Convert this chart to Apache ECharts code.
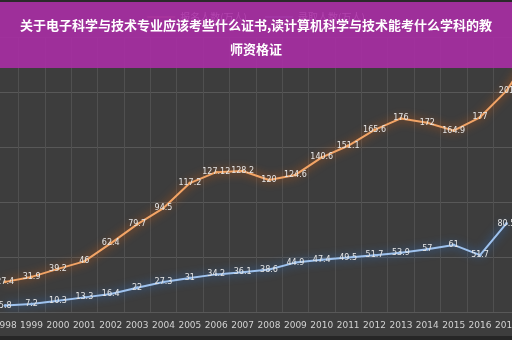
<!DOCTYPE html>
<html>
<head>
<meta charset="utf-8">
<script src="https://cdn.jsdelivr.net/npm/echarts@6/dist/echarts.min.js"></script>
<style>
html,body{margin:0;padding:0;background:#3d3d3d;}
#c{width:512px;height:340px;}
</style>
</head>
<body>
<div id="c"></div>
<script>
var titleText = '关于电子科学与技术专业应该考些什么证书,读计算机科学与技术能考什么学科的教\n师资格证';
var years = ['1998','1999','2000','2001','2002','2003','2004','2005','2006','2007','2008','2009','2010','2011','2012','2013','2014','2015','2016','2017','2018'];
var applicants = [27.4, 31.9, 39.2, 46, 62.4, 79.7, 94.5, 117.2, 127.12, 128.2, 120, 124.6, 140.6, 151.1, 165.6, 176, 172, 164.9, 177, 201, 238];
var admitted = [5.8, 7.2, 10.3, 13.3, 16.4, 22, 27.3, 31, 34.2, 36.1, 38.6, 44.9, 47.4, 49.5, 51.7, 53.9, 57, 61, 51.7, 80.5, null];
var seriesNames = ['报名人数(万人)', '录取人数(万人)'];
var yTicks = {min: 0, max: 250, interval: 50};

var chart = echarts.init(document.getElementById('c'));
var labelStyle = {show: true, position: 'inside', fontSize: 8, color: '#e6e6e6', fontFamily: 'DejaVu Sans, sans-serif'};
chart.setOption({
  backgroundColor: '#3d3d3d',
  animation: false,
  title: {
    text: titleText, left: 'center', top: 13, padding: 0, z: 60,
    textStyle: {color: '#ffffff', fontSize: 13, fontWeight: 'bold', lineHeight: 24, fontFamily: 'Noto Sans CJK SC', align: 'center'}
  },
  legend: {
    top: 7, left: 'center', itemGap: 18, itemWidth: 28, itemHeight: 1, icon: 'rect',
    textStyle: {color: '#ffffff', fontSize: 10, fontFamily: 'Noto Sans CJK SC'},
    data: seriesNames
  },
  graphic: [
    {type: 'rect', shape: {x: 0, y: 2, width: 512, height: 66}, style: {fill: 'rgba(168,46,164,0.9)'}, z: 50},
    {type: 'rect', shape: {x: 0, y: 0, width: 512, height: 2}, style: {fill: '#2a2a2a'}, z: 50},
    {type: 'rect', shape: {x: 0, y: 336, width: 512, height: 4}, style: {fill: '#262626'}, z: 50}
  ],
  grid: {left: -8, right: -34, top: 37, bottom: 28, outerBoundsMode: 'none', containLabel: false},
  xAxis: {
    type: 'category', data: years, boundaryGap: true,
    axisLine: {show: false}, axisTick: {show: false},
    axisLabel: {color: '#d2d2d2', fontSize: 9, margin: 9, interval: 0, fontFamily: 'DejaVu Sans, sans-serif'},
    splitLine: {show: true, interval: 0, lineStyle: {color: '#505050', width: 1}}
  },
  yAxis: {
    type: 'value', min: yTicks.min, max: yTicks.max, interval: yTicks.interval,
    axisLabel: {show: false}, axisLine: {show: false}, axisTick: {show: false},
    splitLine: {lineStyle: {color: '#585858', width: 1}}
  },
  series: [
    {
      name: seriesNames[0], type: 'line', data: applicants,
      symbol: 'circle', symbolSize: 3, clip: true,
      itemStyle: {color: '#f0a868'},
      lineStyle: {color: '#f2a466', width: 2, shadowColor: '#e2600c', shadowBlur: 10},
      label: labelStyle
    },
    {
      name: seriesNames[1], type: 'line', data: admitted,
      symbol: 'circle', symbolSize: 3, clip: true,
      itemStyle: {color: '#9cc0ec'},
      lineStyle: {color: '#9ec2ee', width: 2, shadowColor: '#2f78d8', shadowBlur: 10},
      label: labelStyle
    }
  ]
});
</script>
</body>
</html>
